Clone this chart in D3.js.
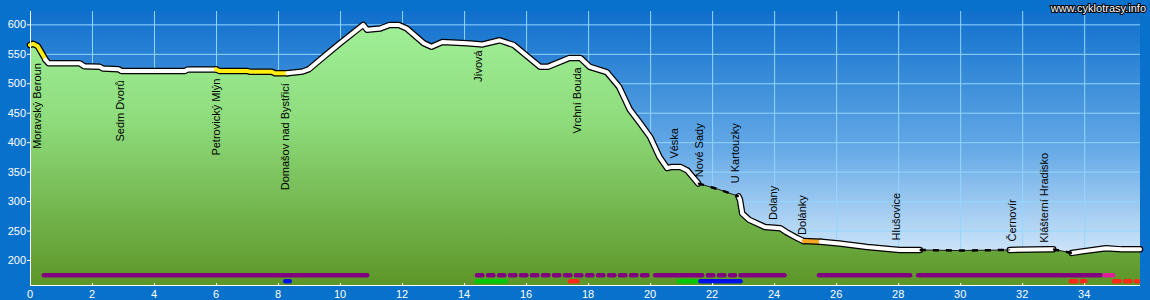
<!DOCTYPE html>
<meta charset="utf-8">
<script src="https://d3js.org/d3.v7.min.js"></script>
<style>
  body { margin: 0; background: #0871cc; }
  text { font-family: "Liberation Sans", Arial, sans-serif; }
</style>
<div id="my_viz"></div>
<script>

// elevation profile (km, m)
var profileKm = [0, 0.1, 0.25, 0.45, 0.5, 0.6, 1.6, 1.75, 2.25, 2.35, 2.85, 2.95, 5.0, 5.1, 6.0, 6.1, 7.0, 7.1, 7.8, 7.9,
  8.3, 8.8, 9.0, 9.45, 10.0, 10.65, 10.75, 10.87, 11.3, 11.6, 11.9, 12.15, 12.7, 12.95, 13.3, 14.1, 14.6, 15.15, 15.6, 16.45,
  16.7, 17.4, 17.75, 18.05, 18.6, 19.0, 19.35, 19.68, 20.0, 20.3, 20.55, 20.7, 20.97, 21.2, 21.55, 22.2, 22.85, 22.9, 22.97, 23.2,
  23.7, 24.2, 24.4, 24.75, 24.95, 25.5, 26.1, 27.0, 28.05, 28.7, 29.9, 31.6, 32.9, 33.0, 33.6, 34.0, 34.7, 35.2, 35.8];
var profileElev = [565, 567, 563, 545, 540, 534, 534, 529, 528, 525, 524, 521, 521, 523.5, 523.5, 521, 521, 519.5, 519.5, 517,
  517, 520, 524, 544, 568, 595, 599, 591, 593, 599, 599, 593, 568, 562, 570, 568, 566, 573, 565, 528,
  528, 543, 543, 528, 519, 494, 455, 432, 409, 375, 356, 358, 358, 352, 330, 320, 308, 302, 279, 268,
  256, 254, 247, 237, 232, 231, 228, 222, 217, 217, 216, 217, 218, 218, 212, 215, 220, 218, 218];

// how each stretch of the profile is drawn
var stretchFrom = [0, 0.5, 6.0, 8.3, 21.55, 22.85, 24.95, 25.5, 28.7, 31.6, 33.0, 33.6];
var stretchTo   = [0.5, 6.0, 8.3, 21.55, 22.85, 24.95, 25.5, 28.7, 31.6, 33.0, 33.6, 35.8];
var stretchKind = ["yellow", "white", "yellow", "white", "dashed", "white", "orange", "white", "dashed", "white", "dashed", "white"];

// place names
var placeNames = ["Moravský Beroun", "Sedm Dvorů", "Petrovický Mlýn", "Domašov nad Bystřicí", "Jívová", "Vrchní Bouda",
  "Véska", "Nové Sady", "U Kartouzky", "Dolany", "Dolánky", "Hlušovice", "Černovír", "Klášterní Hradisko"];
var placeKm = [0.37, 3.03, 6.13, 8.35, 14.58, 17.77, 20.9, 21.7, 22.87, 24.1, 25.03, 28.06, 31.8, 32.84];
var placeTopElev = [534, 505, 508, 500, 556, 527, 424, 432, 432, 326, 310, 314, 303, 382];

// surface bars, row 1
var bar1From = [0.38, 14.35, 20.1, 21.8, 22.85, 25.38, 28.58, 34.6];
var bar1To   = [10.94, 20.0, 21.74, 22.8, 24.4, 28.45, 34.6, 35.0];
var bar1Type = ["purple", "purple", "purple", "purple", "purple", "purple", "purple", "pink"];
var bar1Dash = [false, true, false, true, false, false, false, false];
// row 2
var bar2From = [8.17, 14.35, 17.35, 20.86, 21.56, 33.5, 34.9];
var bar2To   = [8.44, 15.4, 17.72, 21.56, 22.98, 34.1, 35.8];
var bar2Type = ["blue", "green", "red", "green", "blue", "red", "red"];
var bar2Dash = [false, false, false, false, false, true, true];

var xTicks = d3.range(0, 36, 2);
var yTicks = d3.range(200, 601, 50);

var width = 1150, height = 300;
var plotLeft = 30, plotRight = 1140, plotTop = 11, plotBottom = 285;

var x = d3.scaleLinear().domain([0, 35.8]).range([plotLeft, plotRight]);
var y = d3.scaleLinear().domain([157.5, 621]).range([plotBottom, 12]);

var barColor = d3.scaleOrdinal()
  .domain(["purple", "pink", "blue", "green", "red"])
  .range(["#800080", "#e0209a", "#0010e8", "#00c800", "#ff2a1a"]);

var svg = d3.select("#my_viz")
  .append("svg")
    .attr("width", width)
    .attr("height", height)
    .style("display", "block");

svg.append("rect").attr("width", width).attr("height", height).attr("fill", "#0871cc");

var defs = svg.append("defs");
var sky = defs.append("linearGradient").attr("id", "sky")
  .attr("gradientUnits", "userSpaceOnUse").attr("x1", 0).attr("x2", 0).attr("y1", plotTop).attr("y2", plotBottom);
sky.append("stop").attr("offset", "0%").attr("stop-color", "#0f6fcc");
sky.append("stop").attr("offset", "50%").attr("stop-color", "#64a9e6");
sky.append("stop").attr("offset", "100%").attr("stop-color", "#eef7ff");

var ground = defs.append("linearGradient").attr("id", "ground")
  .attr("gradientUnits", "userSpaceOnUse").attr("x1", 0).attr("x2", 0).attr("y1", plotTop).attr("y2", plotBottom);
ground.append("stop").attr("offset", "0%").attr("stop-color", "#a2f29c");
ground.append("stop").attr("offset", "40%").attr("stop-color", "#8edc7c");
ground.append("stop").attr("offset", "100%").attr("stop-color", "#5d9628");

// sky
svg.append("rect")
  .attr("x", plotLeft).attr("y", plotTop)
  .attr("width", plotRight - plotLeft).attr("height", plotBottom - plotTop)
  .attr("fill", "url(#sky)");

// grid
svg.append("g").selectAll("line")
  .data(yTicks)
  .enter().append("line")
    .attr("x1", plotLeft).attr("x2", plotRight)
    .attr("y1", function(d) { return y(d) + 0.5; })
    .attr("y2", function(d) { return y(d) + 0.5; })
    .attr("stroke", "#93d6ff");
svg.append("g").selectAll("line")
  .data(xTicks.filter(function(d) { return d > 0; }))
  .enter().append("line")
    .attr("x1", function(d) { return x(d) + 0.5; })
    .attr("x2", function(d) { return x(d) + 0.5; })
    .attr("y1", plotTop).attr("y2", plotBottom)
    .attr("stroke", "#93d6ff");

var points = profileKm.map(function(k, i) { return [k, profileElev[i]]; });

// ground fill
var area = d3.area()
  .x(function(d) { return x(d[0]); })
  .y0(plotBottom)
  .y1(function(d) { return y(d[1]); });
svg.append("path").datum(points).attr("d", area).attr("fill", "url(#ground)");

// profile line
var line = d3.line()
  .x(function(d) { return x(d[0]); })
  .y(function(d) { return y(d[1]); });

var stretches = stretchKind.map(function(k, i) {
  return {
    kind: k,
    pts: points.filter(function(p) { return p[0] >= stretchFrom[i] - 1e-9 && p[0] <= stretchTo[i] + 1e-9; })
  };
});
var solid = stretches.filter(function(s) { return s.kind != "dashed"; });
var dashed = stretches.filter(function(s) { return s.kind == "dashed"; });
var coreColor = { white: "#ffffff", yellow: "#ffee10", orange: "#f5a623" };

var lineG = svg.append("g").attr("fill", "none").attr("stroke-linejoin", "round").attr("stroke-linecap", "round");
lineG.selectAll(".outline")
  .data(solid).enter().append("path")
    .attr("d", function(d) { return line(d.pts); })
    .attr("stroke", "#000").attr("stroke-width", 6.5);
lineG.selectAll(".core")
  .data(solid).enter().append("path")
    .attr("d", function(d) { return line(d.pts); })
    .attr("stroke", function(d) { return coreColor[d.kind]; })
    .attr("stroke-width", 4);
lineG.selectAll(".thin")
  .data(dashed).enter().append("path")
    .attr("d", function(d) { return line(d.pts); })
    .attr("stroke", "#1a1a1a").attr("stroke-width", 1);
lineG.selectAll(".dash")
  .data(dashed).enter().append("path")
    .attr("d", function(d) { return line(d.pts); })
    .attr("stroke", "#000").attr("stroke-width", 2.5)
    .attr("stroke-linecap", "butt")
    .attr("stroke-dasharray", "6,7");

// place labels
svg.append("g").selectAll("text")
  .data(placeNames)
  .enter().append("text")
    .attr("transform", function(d, i) {
      return "translate(" + x(placeKm[i]) + "," + y(placeTopElev[i]) + ") rotate(-90)";
    })
    .attr("text-anchor", "end")
    .style("font-size", "11px")
    .attr("fill", "#000")
    .text(function(d) { return d; });

// surface bars
function drawBars(from, to, type, dash, cy) {
  svg.append("g").selectAll("line")
    .data(from)
    .enter().append("line")
      .attr("x1", function(d, i) { return x(from[i]) + 2; })
      .attr("x2", function(d, i) { return x(to[i]) - 2; })
      .attr("y1", cy).attr("y2", cy)
      .attr("stroke", function(d, i) { return barColor(type[i]); })
      .attr("stroke-width", 4.5)
      .attr("stroke-linecap", "round")
      .attr("stroke-dasharray", function(d, i) { return dash[i] ? "5.5,5.5" : null; });
}
drawBars(bar1From, bar1To, bar1Type, bar1Dash, 275.3);
drawBars(bar2From, bar2To, bar2Type, bar2Dash, 281.3);

// axes
var axisG = svg.append("g").attr("stroke", "#fff");
axisG.append("line").attr("x1", plotLeft + 0.5).attr("x2", plotLeft + 0.5).attr("y1", plotTop).attr("y2", plotBottom + 0.5);
axisG.append("line").attr("x1", plotLeft).attr("x2", plotRight).attr("y1", plotBottom + 0.5).attr("y2", plotBottom + 0.5);

svg.append("g").selectAll("line")
  .data(yTicks)
  .enter().append("line")
    .attr("x1", plotLeft - 3).attr("x2", plotLeft)
    .attr("y1", function(d) { return y(d) + 0.5; })
    .attr("y2", function(d) { return y(d) + 0.5; })
    .attr("stroke", "#fff");
svg.append("g").selectAll("text")
  .data(yTicks)
  .enter().append("text")
    .attr("x", plotLeft - 4)
    .attr("y", function(d) { return y(d) + 4; })
    .attr("text-anchor", "end")
    .style("font-size", "11px")
    .attr("fill", "#fff")
    .text(function(d) { return d; });

svg.append("g").selectAll("line")
  .data(xTicks)
  .enter().append("line")
    .attr("x1", function(d) { return x(d) + 0.5; })
    .attr("x2", function(d) { return x(d) + 0.5; })
    .attr("y1", plotBottom - 2).attr("y2", plotBottom)
    .attr("stroke", "#fff");
svg.append("g").selectAll("text")
  .data(xTicks)
  .enter().append("text")
    .attr("x", function(d) { return x(d); })
    .attr("y", 298)
    .attr("text-anchor", "middle")
    .style("font-size", "11px")
    .attr("fill", "#fff")
    .text(function(d) { return d; });

// watermark
svg.append("text")
  .attr("x", 1146)
  .attr("y", 12)
  .attr("text-anchor", "end")
  .style("font-size", "11px")
  .attr("fill", "#fff")
  .attr("stroke", "#000")
  .attr("stroke-width", 2)
  .attr("paint-order", "stroke")
  .text("www.cyklotrasy.info");

</script>
